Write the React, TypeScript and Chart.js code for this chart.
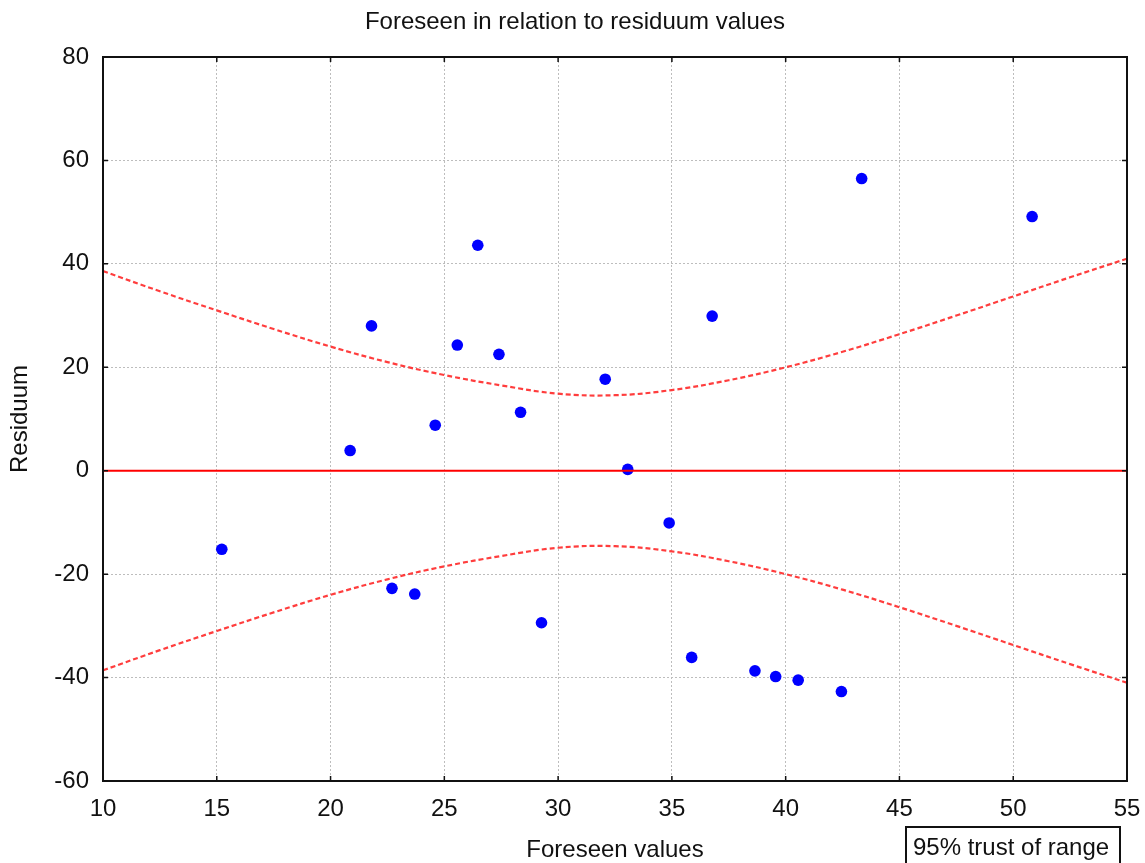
import React, { useEffect, useRef } from "react";
import { Chart, registerables } from "chart.js";

Chart.register(...registerables);

// Scatter of residuals against predicted values
const foreseen = [
  15.22, 20.86, 21.8, 22.7, 23.7, 24.6, 25.57, 26.47, 27.4, 28.35, 29.27,
  32.07, 33.06, 34.88, 35.87, 36.77, 38.65, 39.56, 40.55, 42.45, 43.34, 50.83,
];
const residuum = [
  -15.2, 3.9, 28.0, -22.75, -23.85, 8.8, 24.3, 43.6, 22.5, 11.3, -29.4,
  17.7, 0.25, -10.1, -36.1, 29.9, -38.7, -39.8, -40.5, -42.7, 56.5, 49.15,
];

// 95% range curves
const bandX = [
  10, 12.5, 15, 17.5, 20, 22.5, 25, 27.5, 30, 32.5, 35, 37.5, 40, 42.5, 45,
  47.5, 50, 52.5, 55,
];
const bandUpper = [
  38.6, 34.7, 31.0, 27.4, 24.0, 21.0, 18.5, 16.5, 14.9, 14.6, 15.6, 17.5,
  20.0, 23.0, 26.4, 30.0, 33.7, 37.4, 41.0,
];
const bandLower = [
  -38.6, -34.7, -31.0, -27.4, -24.0, -21.0, -18.5, -16.5, -14.9, -14.6, -15.6,
  -17.5, -20.0, -23.0, -26.4, -30.0, -33.7, -37.4, -41.0,
];

// Zero reference line
const zeroX = [10, 55];
const zeroY = [0, 0];

const xTicks = [10, 15, 20, 25, 30, 35, 40, 45, 50, 55];
const yTicks = [-60, -40, -20, 0, 20, 40, 60, 80];

const chartTitle = "Foreseen in relation to residuum values";
const xTitle = "Foreseen values";
const yTitle = "Residuum";
const legendLabel = "95% trust of range";

const FONT = 'Arial, "Liberation Sans", sans-serif';

const pairs = (xs: number[], ys: number[]) => xs.map((x, i) => ({ x, y: ys[i] }));

const framePlugin = {
  id: "frameAndLegend",
  afterDraw(chart: any) {
    const { ctx, chartArea: a, scales } = chart;
    ctx.save();
    ctx.strokeStyle = "#111";
    ctx.lineWidth = 2;
    ctx.strokeRect(a.left, a.top, a.right - a.left, a.bottom - a.top);

    // inner tick marks on all four sides
    ctx.lineWidth = 1.5;
    ctx.beginPath();
    xTicks.forEach((v) => {
      const px = scales.x.getPixelForValue(v);
      ctx.moveTo(px, a.top);
      ctx.lineTo(px, a.top + 5);
      ctx.moveTo(px, a.bottom);
      ctx.lineTo(px, a.bottom - 5);
    });
    yTicks.forEach((v) => {
      const py = scales.y.getPixelForValue(v);
      ctx.moveTo(a.left, py);
      ctx.lineTo(a.left + 5, py);
      ctx.moveTo(a.right, py);
      ctx.lineTo(a.right - 5, py);
    });
    ctx.stroke();

    // legend box, bottom right
    const boxRight = a.right - 7;
    const boxLeft = boxRight - 214;
    const boxTop = a.bottom + 46;
    ctx.lineWidth = 2;
    ctx.strokeRect(boxLeft, boxTop, boxRight - boxLeft, 60);
    ctx.fillStyle = "#111";
    ctx.font = `24px ${FONT}`;
    ctx.textAlign = "left";
    ctx.textBaseline = "alphabetic";
    ctx.fillText(legendLabel, boxLeft + 7, boxTop + 28);
    ctx.restore();
  },
};

export default function App() {
  const canvasRef = useRef<HTMLCanvasElement | null>(null);

  useEffect(() => {
    const canvas = canvasRef.current;
    if (!canvas) return;
    const chart = new Chart(canvas, {
      type: "scatter",
      data: {
        datasets: [
          {
            label: "zero",
            data: pairs(zeroX, zeroY),
            showLine: true,
            borderColor: "#ff0000",
            borderWidth: 2,
            pointRadius: 0,
          },
          {
            label: "upper",
            data: pairs(bandX, bandUpper),
            showLine: true,
            borderColor: "rgba(255,40,40,0.9)",
            borderWidth: 2.2,
            borderDash: [5, 3],
            tension: 0.4,
            pointRadius: 0,
          },
          {
            label: "lower",
            data: pairs(bandX, bandLower),
            showLine: true,
            borderColor: "rgba(255,40,40,0.9)",
            borderWidth: 2.2,
            borderDash: [5, 3],
            tension: 0.4,
            pointRadius: 0,
          },
          {
            label: "residuum",
            data: pairs(foreseen, residuum),
            backgroundColor: "#0000ff",
            borderColor: "#0000ff",
            borderWidth: 0,
            pointRadius: 5.8,
          },
        ],
      },
      options: {
        responsive: false,
        animation: false,
        layout: { padding: { left: 5, right: 0, top: 0, bottom: 0 } },
        plugins: {
          legend: { display: false },
          tooltip: { enabled: false },
          title: {
            display: true,
            text: chartTitle,
            color: "#111",
            font: { family: FONT, size: 24, weight: "normal", lineHeight: 1.2 },
            padding: { top: 8, bottom: 20.2 },
          },
        },
        scales: {
          x: {
            type: "linear",
            min: 10,
            max: 55,
            afterBuildTicks: (s: any) => {
              s.ticks = xTicks.map((v) => ({ value: v }));
            },
            afterFit: (s: any) => {
              s.height = 82;
              s.paddingLeft = 0;
              s.paddingRight = 18;
            },
            ticks: {
              color: "#111",
              font: { family: FONT, size: 24 },
              padding: 14,
              maxRotation: 0,
              autoSkip: false,
            },
            grid: { color: "#bdbdbd", lineWidth: 1, drawTicks: false },
            border: { display: false, dash: [2, 2] },
            title: {
              display: true,
              text: xTitle,
              color: "#111",
              font: { family: FONT, size: 24, lineHeight: 1 },
              padding: { top: 0, bottom: 0.5 },
            },
          },
          y: {
            type: "linear",
            min: -60,
            max: 80,
            afterBuildTicks: (s: any) => {
              s.ticks = yTicks.map((v) => ({ value: v }));
            },
            afterFit: (s: any) => {
              s.width = 98;
              s.paddingTop = 0;
              s.paddingBottom = 0;
            },
            ticks: {
              color: "#111",
              font: { family: FONT, size: 24 },
              padding: 14,
              autoSkip: false,
            },
            grid: { color: "#bdbdbd", lineWidth: 1, drawTicks: false },
            border: { display: false, dash: [2, 2] },
            title: {
              display: true,
              text: yTitle,
              color: "#111",
              font: { family: FONT, size: 24, lineHeight: 1 },
              padding: { top: 3, bottom: 0 },
            },
          },
        },
      },
      plugins: [framePlugin],
    });
    return () => chart.destroy();
  }, []);

  return (
    <div
      style={{
        position: "fixed",
        left: 0,
        top: 0,
        width: 1145,
        height: 863,
        background: "#fff",
        overflow: "hidden",
      }}
    >
      <canvas ref={canvasRef} width={1145} height={863} />
    </div>
  );
}
